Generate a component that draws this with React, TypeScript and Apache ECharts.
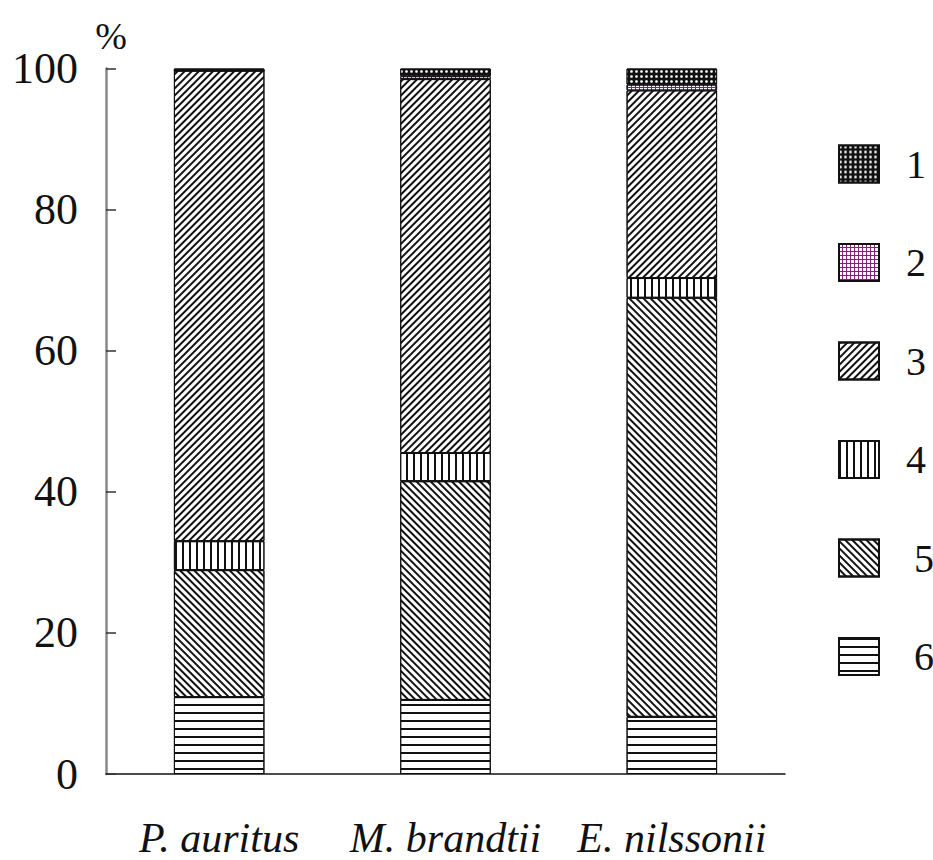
import React, { useEffect, useRef } from "react";
import * as echarts from "echarts";

const categories = ["P. auritus", "M. brandtii", "E. nilssonii"];
const legendNames = ["1", "2", "3", "4", "5", "6"];
const s1 = [0.3, 1.1, 2.3];
const s2 = [0, 0.4, 0.8];
const s3 = [66.7, 53.0, 26.6];
const s4 = [4.1, 4.0, 2.8];
const s5 = [18.0, 31.0, 59.4];
const s6 = [10.9, 10.5, 8.1];
const yTicks = [0, 20, 40, 60, 80, 100];

const SERIF = "'Liberation Serif', 'Times New Roman', serif";

export default function App() {
  const ref = useRef<HTMLDivElement>(null);
  useEffect(() => {
    if (!ref.current) return;
    const chart = echarts.init(ref.current, null, { renderer: "svg" });
    const border = { borderColor: "#111", borderWidth: 1 };
    const mk = (name: string, data: number[], itemStyle: any) => ({
      name,
      type: "bar",
      stack: "total",
      barWidth: "40%",
      data,
      itemStyle: { ...border, ...itemStyle },
      emphasis: { disabled: true },
    });
    const series = [
      mk("6", s6, {
        color: "#fff",
        decal: { symbol: "rect", color: "#111", dashArrayX: [1, 0], dashArrayY: [1.6, 5.4], rotation: 0 },
      }),
      mk("5", s5, {
        color: "#fff",
        decal: { symbol: "rect", color: "#111", dashArrayX: [1, 0], dashArrayY: [1.6, 2.6], rotation: Math.PI / 4 },
      }),
      mk("4", s4, {
        color: "#fff",
        decal: { symbol: "rect", color: "#111", dashArrayX: [1.6, 5], dashArrayY: [1, 0], rotation: 0 },
      }),
      mk("3", s3, {
        color: "#fff",
        decal: { symbol: "rect", color: "#111", dashArrayX: [1, 0], dashArrayY: [1.6, 2.6], rotation: -Math.PI / 4 },
      }),
      mk("2", s2, {
        color: "#8a1a8a",
        decal: { symbol: "rect", color: "#fff", dashArrayX: [3, 1], dashArrayY: [3, 1], rotation: 0, symbolSize: 1 },
      }),
      mk("1", s1, {
        color: "#111",
        decal: { symbol: "circle", color: "#fff", dashArrayX: [2.5, 1.5], dashArrayY: [2.5, 1.5], rotation: 0, symbolSize: 0.9 },
      }),
    ];
    chart.setOption({
      animation: false,
      backgroundColor: "#fff",
      grid: { left: 106, right: 148, top: 68.5, bottom: 86, containLabel: false },
      legend: {
        data: legendNames.map((n) => ({
          name: n,
          icon: "rect",
          textStyle: { padding: [0, 0, 0, n === "5" || n === "6" ? 30 : 22] },
        })),
        orient: "vertical",
        left: 833,
        top: 139,
        itemWidth: 40,
        itemHeight: 37,
        itemGap: 58.5,
        selectedMode: false,
        textStyle: { fontFamily: SERIF, fontSize: 40, color: "#111" },
      },
      xAxis: {
        type: "category",
        data: categories,
        axisLine: { lineStyle: { color: "#111", width: 1.5 } },
        axisTick: { inside: true, length: 12, alignWithLabel: false, interval: 0, lineStyle: { color: "#111", width: 1.5 } },
        axisLabel: { interval: 0, fontFamily: SERIF, fontSize: 42, fontStyle: "italic", color: "#111", margin: 43 },
      },
      yAxis: {
        type: "value",
        min: yTicks[0],
        max: yTicks[yTicks.length - 1],
        interval: 20,
        name: "%",
        nameLocation: "end",
        nameGap: 14,
        nameTextStyle: { fontFamily: SERIF, fontSize: 38, color: "#111", align: "center", padding: [0, 0, 0, 10] },
        axisLine: { show: true, lineStyle: { color: "#888", width: 2.5 } },
        axisTick: { show: true, inside: true, length: 10, lineStyle: { color: "#333", width: 1.5 } },
        splitLine: { show: false },
        axisLabel: { fontFamily: SERIF, fontSize: 44, color: "#111", margin: 28 },
      },
      series,
    });
    return () => chart.dispose();
  }, []);
  return <div ref={ref} style={{ position: "absolute", left: 0, top: 0, width: 933, height: 860 }} />;
}
